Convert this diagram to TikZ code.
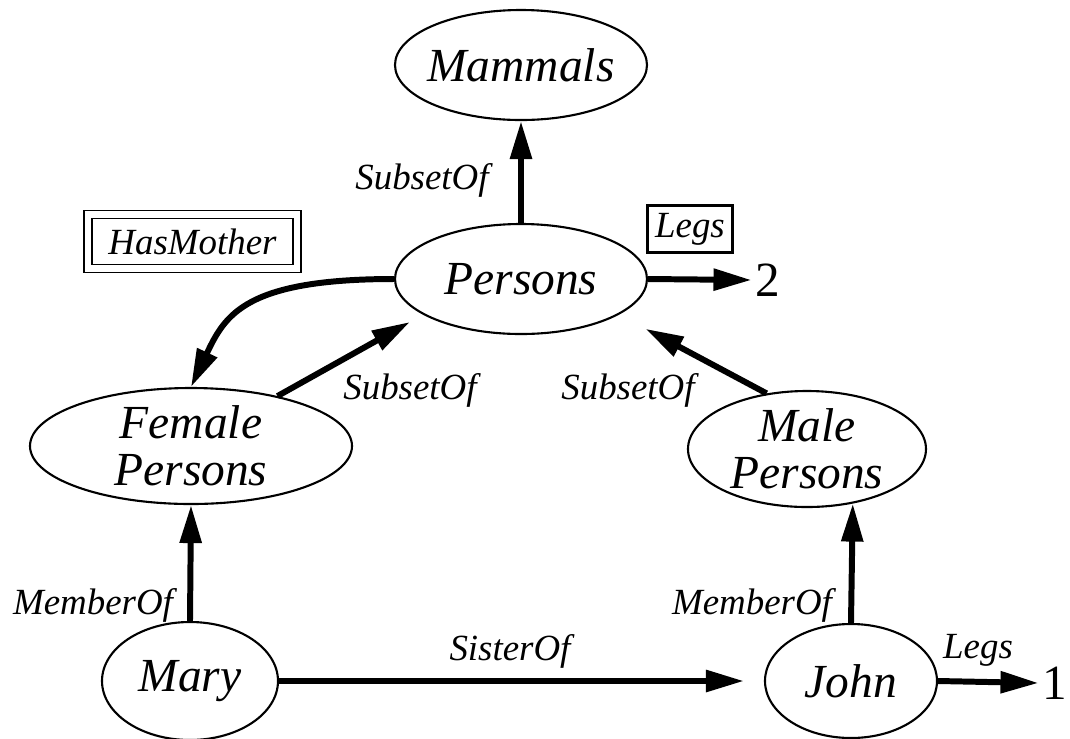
\documentclass[tikz,border=0pt]{standalone}
\usepackage{fontspec}
\setmainfont{Liberation Serif}
\usetikzlibrary{shapes.geometric,arrows.meta}

\begin{document}
\begin{tikzpicture}[x=1cm, y=-1cm,
    cls/.style={ellipse, draw, line width=0.6pt, inner sep=-3pt, align=center,
        font=\fontsize{13.5}{13.4}\selectfont\itshape},
    rel/.style={line width=1.7pt, -{Triangle[length=3.8mm, width=2.1mm]}},
    lbl/.style={font=\fontsize{10.5}{12}\selectfont\itshape, inner sep=0pt},
    val/.style={font=\fontsize{14}{14}\selectfont, inner sep=1pt}]
    \useasboundingbox (0, 0) rectangle (10.70, 7.38);

    % classes and individuals
    \node[cls, minimum width=2.52cm, minimum height=1.10cm] (mammals) at (5.21, 0.65) {Mammals};
    \node[cls, minimum width=2.52cm, minimum height=1.10cm] (persons) at (5.21, 2.79) {Persons};
    \node[cls, minimum width=3.22cm, minimum height=1.16cm] (female) at (1.91, 4.46) {Female\\Persons};
    \node[cls, minimum width=2.38cm, minimum height=1.16cm] (male) at (8.07, 4.49) {Male\\Persons};
    \node[cls, minimum width=1.76cm, minimum height=1.18cm] (mary) at (1.90, 6.81) {Mary};
    \node[cls, minimum width=1.72cm, minimum height=1.14cm] (john) at (8.51, 6.81) {John};

    % boxed relations
    \node[draw, double, line width=0.5pt, double distance=1.8pt, lbl,
        minimum width=2.09cm, minimum height=0.54cm] (hasmother) at (1.925, 2.415) {HasMother};
    \node[draw, line width=0.6pt, lbl, minimum width=0.85cm, minimum height=0.47cm] (legsbox) at (6.90, 2.29) {Legs};

    % values
    \node[val] (two) at (7.68, 2.80) {2};
    \node[val] (one) at (10.55, 6.83) {1};

    % edge labels
    \node[lbl] (subsetM) at (4.22, 1.80) {SubsetOf};
    \node[lbl] (subsetF) at (4.10, 3.90) {SubsetOf};
    \node[lbl] (subsetMa) at (6.28, 3.90) {SubsetOf};
    \node[lbl] (memberF) at (0.93, 6.05) {MemberOf};
    \node[lbl] (memberM) at (7.52, 6.05) {MemberOf};
    \node[lbl] (sister) at (5.10, 6.51) {SisterOf};
    \node[lbl] (legsJ) at (9.78, 6.50) {Legs};

    % edges
    \draw[rel] (persons.north) -- (mammals.south);
    \draw[rel] (persons.east) -- (two.west);
    \draw[rel] (persons.west) .. controls (2.45, 2.79) and (2.25, 3.15) .. (female.north);
    \draw[rel, shorten >=1.5mm] (female.30) -- (persons.200);
    \draw[rel, shorten >=3mm] (male.126) -- (persons.340);
    \draw[rel] (mary.north) -- (female.south);
    \draw[rel] (john.north) -- (male.310);
    \draw[rel, shorten >=2mm] (mary.east) -- (john.west);
    \draw[rel] (john.east) -- (one.west);
\end{tikzpicture}
\end{document}
